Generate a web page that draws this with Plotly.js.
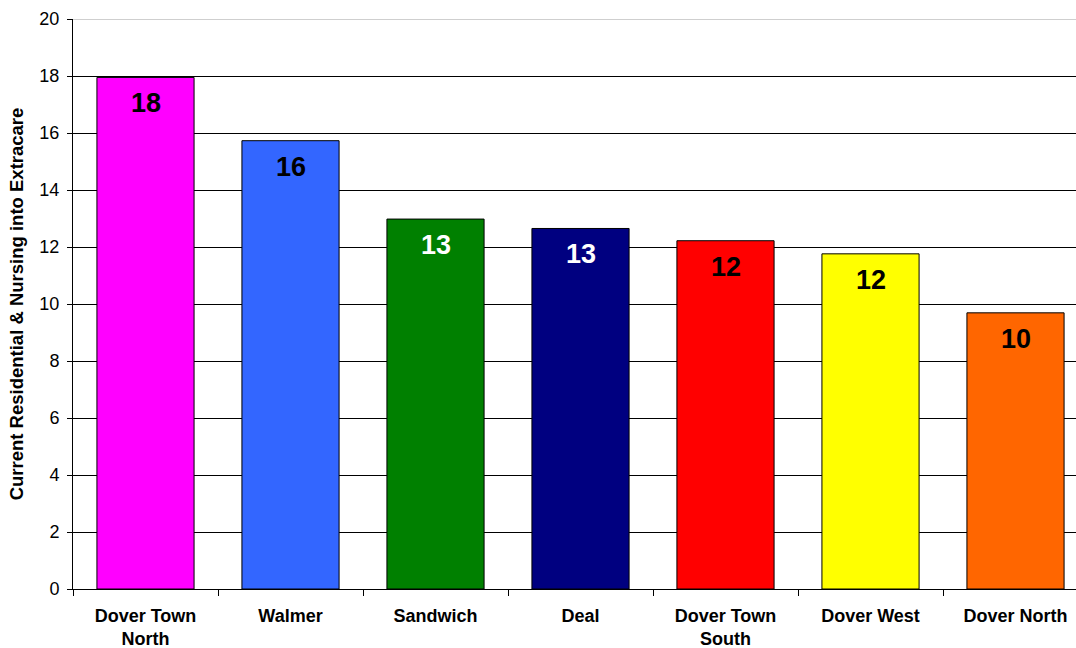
<!DOCTYPE html>
<html>
<head>
<meta charset="utf-8">
<script src="https://cdn.plot.ly/plotly-3.0.1.min.js"></script>
<style>html,body{margin:0;padding:0;overflow:hidden;background:#fff}</style>
</head>
<body>
<div id="chart"></div>
<script>
const categories = ["Dover Town<br>North", "Walmer", "Sandwich", "Deal", "Dover Town<br>South", "Dover West", "Dover North"];
const values = [17.95, 15.73, 12.98, 12.65, 12.22, 11.76, 9.69];
const barColors = ["#FF00FF", "#3366FF", "#008000", "#000080", "#FF0000", "#FFFF00", "#FF6600"];
const labelColors = ["#000000", "#000000", "#FFFFFF", "#FFFFFF", "#000000", "#000000", "#000000"];
const yTicks = [0, 2, 4, 6, 8, 10, 12, 14, 16, 18, 20];

const FONT = "Liberation Sans, Arial, sans-serif";

const trace = {
  type: "bar",
  x: categories,
  y: values,
  marker: {color: barColors, line: {color: "#000000", width: 1}},
  hoverinfo: "none"
};

const annotations = categories.map((c, i) => ({
  x: c, y: values[i], xref: "x", yref: "y",
  text: "<b>" + Math.round(values[i]) + "</b>",
  showarrow: false, yanchor: "top", yshift: -9,
  font: {family: FONT, size: 27, color: labelColors[i]}
}));

const layout = {
  width: 1090, height: 648,
  margin: {l: 73, r: 2, t: 19, b: 59},
  paper_bgcolor: "#FFFFFF", plot_bgcolor: "#FFFFFF",
  bargap: 0.33,
  showlegend: false,
  font: {family: FONT, color: "#000000"},
  xaxis: {
    type: "category",
    tickson: "boundaries",
    ticks: "outside", ticklen: 6, tickcolor: "#000000", tickwidth: 1,
    showline: true, linecolor: "#000000", linewidth: 1,
    showgrid: false, zeroline: false,
    tickfont: {family: FONT, size: 18, color: "#000000", weight: "bold"},
    ticklabelstandoff: 10,
    fixedrange: true
  },
  yaxis: {
    range: [0, 20],
    tickvals: yTicks,
    ticktext: yTicks.map(String),
    ticks: "outside", ticklen: 5, tickcolor: "#000000", tickwidth: 1,
    showline: true, linecolor: "#000000", linewidth: 1,
    showgrid: true, gridcolor: "#000000", gridwidth: 1,
    zeroline: false,
    tickfont: {family: FONT, size: 18, color: "#000000"},
    ticklabelstandoff: 4,
    title: {text: "<b>Current Residential & Nursing into Extracare</b>", font: {family: FONT, size: 18.5, color: "#000000"}, standoff: 10},
    fixedrange: true
  },
  shapes: [{type: "line", xref: "paper", yref: "y", x0: 0, x1: 1, y0: 20, y1: 20, line: {color: "#A0A0A0", width: 1}}],
  annotations: annotations
};

Plotly.newPlot("chart", [trace], layout, {displayModeBar: false, staticPlot: true});
</script>
</body>
</html>
